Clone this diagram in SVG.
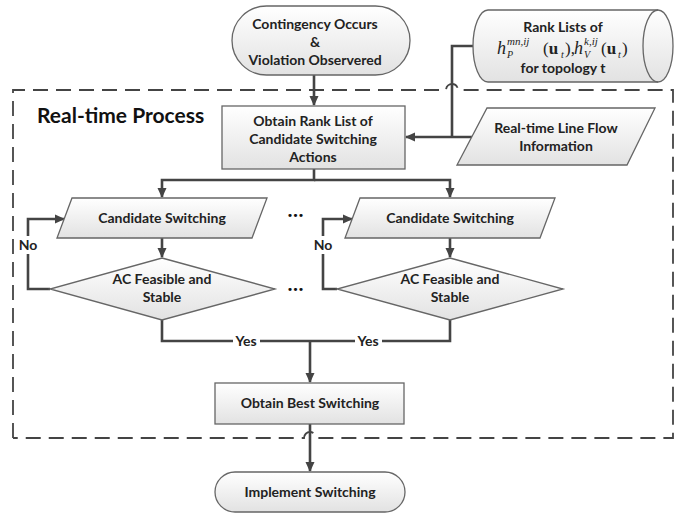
<svg xmlns="http://www.w3.org/2000/svg" width="688" height="516" viewBox="0 0 688 516">
<defs>
<linearGradient id="g" x1="0" y1="0" x2="0" y2="1">
<stop offset="0" stop-color="#ffffff"/>
<stop offset="1" stop-color="#e2e2e2"/>
</linearGradient>
<marker id="ah" markerWidth="10" markerHeight="10" viewBox="0 0 10 10" refX="9" refY="5" orient="auto" markerUnits="userSpaceOnUse">
<path d="M0,0.5 L10,5 L0,9.5 Z" fill="#444"/>
</marker>
</defs>
<style>
.shape{fill:url(#g);stroke:#666;stroke-width:1.3}
.t{font-family:Lato,"Open Sans","Liberation Sans",sans-serif;font-weight:bold;font-size:14px;fill:#222;text-anchor:middle}
.c{fill:none;stroke:#444;stroke-width:2.6}
.ca{fill:none;stroke:#444;stroke-width:2.6;marker-end:url(#ah)}
.d{fill:none;stroke:#444;stroke-width:1.8;stroke-dasharray:15,8}
.m{font-family:"Liberation Serif","DejaVu Serif",serif;fill:#222}
.lbl{fill:#fff}
.dots{font-family:"DejaVu Sans",sans-serif;font-size:11px;fill:#111;text-anchor:middle;letter-spacing:-1px}
</style>
<rect width="688" height="516" fill="#fff"/>

<g id="frame">
<path class="d" d="M13,438 V90 H446 A6,6 0 0 1 458,90 H673 V438 H316 A6,6 0 0 0 304,438 H13"/>
<text x="37" y="123" font-family="Lato,'Open Sans','Liberation Sans',sans-serif" font-weight="bold" font-size="21" fill="#111">Real-time Process</text>
</g>

<g id="connectors">
<path class="ca" d="M314,75 V105"/>
<path class="c" d="M473,46 H452 V137"/>
<path class="ca" d="M472,137 H406"/>
<path class="ca" d="M314,169 V180 H162 V197"/>
<path class="ca" d="M314,180 H450 V197"/>
<path class="ca" d="M162,238 V257"/>
<path class="ca" d="M450,238 V257"/>
<path class="ca" d="M50,289 H28 V219 H64"/>
<path class="ca" d="M337,289 H323 V219 H352"/>
<path class="c" d="M162,320 V341 H450 V320"/>
<path class="ca" d="M310,341 V382"/>
<path class="ca" d="M310,424 V471"/>
<rect class="lbl" x="17" y="236" width="22" height="18"/>
<text class="t" x="28" y="250">No</text>
<rect class="lbl" x="312" y="236" width="22" height="18"/>
<text class="t" x="323" y="250">No</text>
<rect class="lbl" x="233" y="333" width="27" height="15"/>
<text class="t" x="246" y="346">Yes</text>
<rect class="lbl" x="355" y="333" width="27" height="15"/>
<text class="t" x="368" y="346">Yes</text>
</g>

<g id="start">
<rect class="shape" x="232" y="6" width="178" height="69" rx="34.5"/>
<text class="t" x="315" y="29">Contingency Occurs</text>
<text class="t" x="315" y="47">&amp;</text>
<text class="t" x="315" y="65">Violation Observered</text>
</g>

<g id="ranklists">
<path class="shape" d="M488,10 H658 A15,36 0 0 1 658,82 H488 A15,36 0 0 1 488,10 Z"/>
<path fill="none" stroke="#666" stroke-width="1.3" d="M658,10 A15,36 0 0 0 658,82"/>
<text class="t" x="563" y="32">Rank Lists of</text>
<text class="m" font-size="18" font-style="italic" x="497" y="54">h</text>
<text class="m" font-size="11" font-style="italic" x="507" y="45">mn,ij</text>
<text class="m" font-size="10" font-style="italic" x="507" y="58">P</text>
<text class="m" font-size="17" x="543" y="54">(<tspan font-weight="bold">u</tspan></text>
<text class="m" font-size="10" font-style="italic" x="561" y="58">t</text>
<text class="m" font-size="17" x="565" y="54">),</text>
<text class="m" font-size="18" font-style="italic" x="574" y="54">h</text>
<text class="m" font-size="11" font-style="italic" x="584" y="45">k,ij</text>
<text class="m" font-size="10" font-style="italic" x="584" y="58">V</text>
<text class="m" font-size="17" x="601" y="54">(<tspan font-weight="bold">u</tspan></text>
<text class="m" font-size="10" font-style="italic" x="618" y="58">t</text>
<text class="m" font-size="17" x="622" y="54">)</text>
<text class="t" x="563" y="73">for topology t</text>
</g>

<g id="ranklist-box">
<rect class="shape" x="222" y="106" width="183" height="63"/>
<text class="t" x="313" y="126">Obtain Rank List of</text>
<text class="t" x="313" y="144">Candidate Switching</text>
<text class="t" x="313" y="162">Actions</text>
</g>

<g id="lineflow">
<polygon class="shape" points="487,108 655,108 627,165 457,165"/>
<text class="t" x="556" y="133">Real-time Line Flow</text>
<text class="t" x="556" y="151">Information</text>
</g>

<g id="cand1">
<polygon class="shape" points="72,198 267,198 252,238 57,238"/>
<text class="t" x="162" y="223">Candidate Switching</text>
</g>

<g id="feas1">
<polygon class="shape" points="162,258 275,289 162,320 50,289"/>
<text class="t" x="162" y="284">AC Feasible and</text>
<text class="t" x="162" y="302">Stable</text>
</g>

<g id="cand2">
<polygon class="shape" points="360,198 555,198 540,238 345,238"/>
<text class="t" x="450" y="223">Candidate Switching</text>
</g>

<g id="feas2">
<polygon class="shape" points="450,258 563,289 450,320 337,289"/>
<text class="t" x="450" y="284">AC Feasible and</text>
<text class="t" x="450" y="302">Stable</text>
</g>

<g id="dots">
<text class="dots" x="295" y="219">•••</text>
<text class="dots" x="295" y="293">•••</text>
</g>

<g id="best">
<rect class="shape" x="215" y="383" width="189" height="41"/>
<text class="t" x="310" y="408">Obtain Best Switching</text>
</g>

<g id="implement">
<rect class="shape" x="215" y="472" width="190" height="40" rx="20"/>
<text class="t" x="310" y="497">Implement Switching</text>
</g>
</svg>
